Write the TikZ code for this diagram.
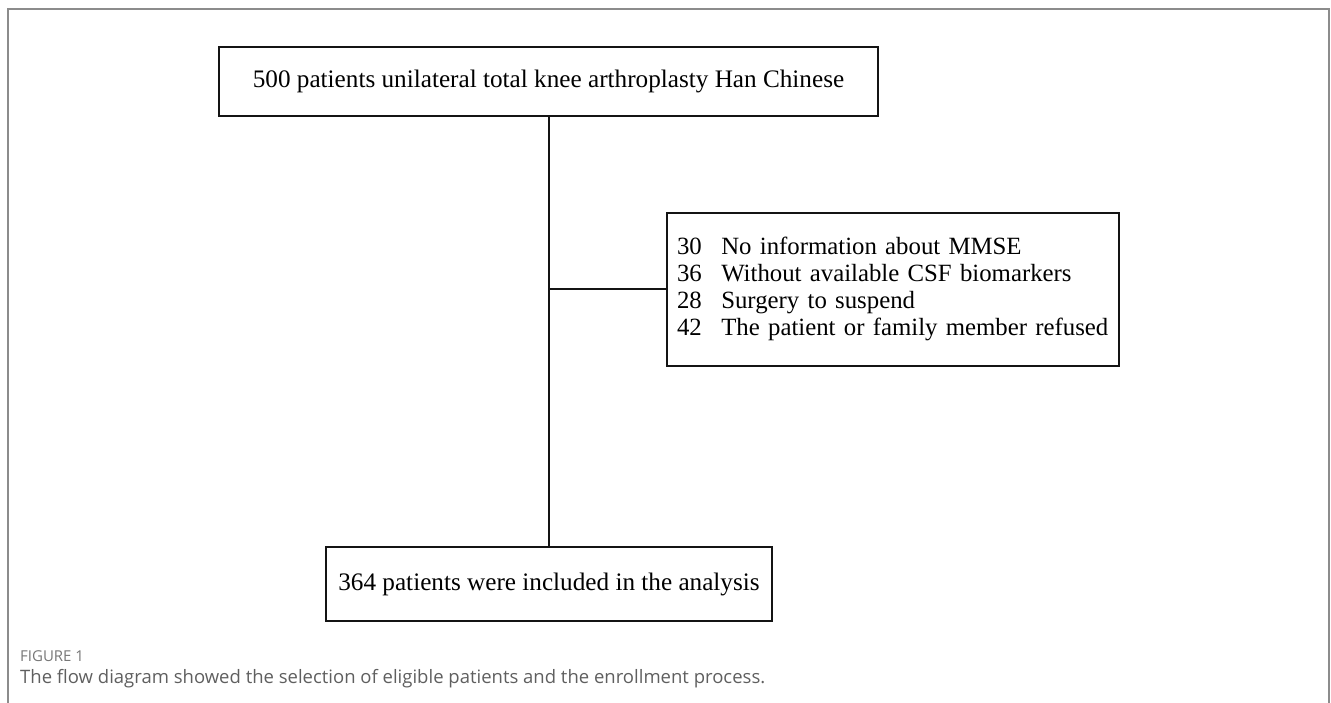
\documentclass[tikz,border=0pt]{standalone}
\usepackage{fontspec}
\usepackage{xcolor}
\usetikzlibrary{positioning}
\setmainfont{Liberation Serif}
\newfontfamily\capfont{Open Sans}
\definecolor{flowLine}{RGB}{20,20,20}
\definecolor{frameGray}{RGB}{140,140,140}
\definecolor{capGray}{RGB}{95,95,95}

\begin{document}
\begin{tikzpicture}[
    x=1pt, y=-1pt,
    box/.style={draw=flowLine, line width=2pt, inner sep=0pt, align=center, font=\fontsize{25.2}{27}\selectfont},
    exclbox/.style={draw=flowLine, line width=2pt, inner xsep=10pt, inner ysep=0pt, text width=432pt, align=left, font=\fontsize{24.8}{27}\selectfont},
    link/.style={draw=flowLine, line width=2pt},
    figlabel/.style={font=\capfont\fontsize{15}{17}\selectfont, text=capGray!85, inner sep=0pt},
    figtext/.style={font=\capfont\fontsize{18.5}{21}\selectfont, text=capGray, inner sep=0pt}
]
    \useasboundingbox (0,0) rectangle (1331,703);
    \draw[frameGray, line width=1.2pt] (8,703) -- (8,9) -- (1329,9) -- (1329,703);

    \node[box, minimum width=659pt, minimum height=69pt] (cohort) at (548.5,81.5)
        {500 patients unilateral total knee arthroplasty Han Chinese};
    \node[exclbox, minimum width=452pt, minimum height=153pt] (excluded) at (893,289.5)
        {\begin{tabular}{@{}l@{\hspace{19.5pt}}l@{}}
            30 & No information about MMSE\\
            36 & Without available CSF biomarkers\\
            28 & Surgery to suspend\\
            42 & The patient or family member refused
         \end{tabular}};
    \node[box, minimum width=446pt, minimum height=74pt] (included) at (549,584)
        {364 patients were included in the analysis};
    \coordinate (split) at (cohort.south |- excluded.west);

    \draw[link] (cohort.south) -- (cohort.south |- included.north);
    \draw[link] (split) -- (excluded.west);

    \node[figlabel, anchor=base west] (figno) at (20,661) {FIGURE 1};
    \node[figtext, anchor=base west] (figcap) at (20,683)
        {The flow diagram showed the selection of eligible patients and the enrollment process.};
\end{tikzpicture}
\end{document}
